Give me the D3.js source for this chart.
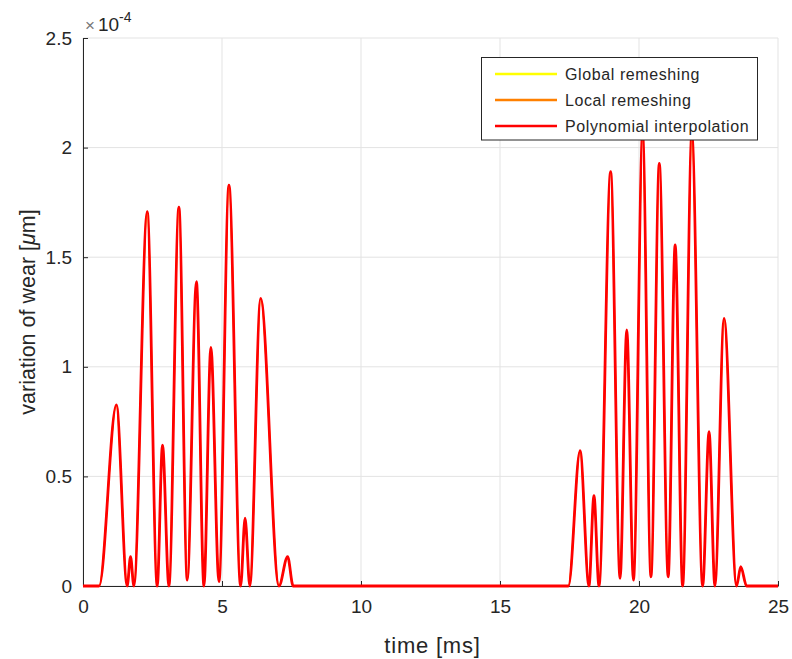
<!DOCTYPE html>
<html>
<head>
<meta charset="utf-8">
<script src="https://cdn.jsdelivr.net/npm/d3@7/dist/d3.min.js"></script>
<style>
  html, body { margin: 0; padding: 0; background: #ffffff; }
  svg { display: block; }
  text { font-family: "Liberation Sans", Arial, Helvetica, sans-serif; fill: #262626; }
</style>
</head>
<body>
<svg id="chart" width="792" height="659"></svg>
<script>
// ---- data (time in ms, wear in units of 1e-4 µm) ----
const timeMs = [0, 0.58, 1.20, 1.59, 1.71, 1.83, 2.31, 2.67, 2.86, 3.09, 3.45, 3.75, 4.08, 4.35, 4.60, 4.89, 5.25, 5.67, 5.83, 6.00, 6.39, 7.05, 7.36, 7.56,
                17.46, 17.88, 18.20, 18.38, 18.56, 18.98, 19.32, 19.56, 19.80, 20.13, 20.43, 20.73, 21.05, 21.30, 21.57, 21.90, 22.29, 22.52, 22.73, 23.06, 23.51, 23.66, 23.87, 25];
const wearPolynomial = [0, 0, 0.826, 0, 0.134, 0, 1.708, 0, 0.643, 0, 1.728, 0.027, 1.388, 0, 1.089, 0.02, 1.829, 0, 0.309, 0, 1.312, 0, 0.134, 0,
                0, 0.617, 0, 0.412, 0, 1.890, 0.035, 1.168, 0.027, 2.06, 0.042, 1.928, 0.042, 1.556, 0, 2.06, 0, 0.704, 0, 1.221, 0, 0.088, 0, 0];
const wearGlobal = wearPolynomial.slice();
const wearLocal = wearPolynomial.slice();

const seriesNames = ["Global remeshing", "Local remeshing", "Polynomial interpolation"];
const seriesColors = ["#ffff00", "#ff8000", "#ff0000"];
const seriesValues = [wearGlobal, wearLocal, wearPolynomial];

const xTicks = [0, 5, 10, 15, 20, 25];
const yTicks = [0, 0.5, 1, 1.5, 2, 2.5];
const xLabel = "time [ms]";
const exponentLabel = "-4";

// ---- layout ----
const svg = d3.select("#chart");
const pLeft = 83, pRight = 778, pTop = 38, pBottom = 586;

const x = d3.scaleLinear().domain([0, 25]).range([pLeft, pRight]);
const y = d3.scaleLinear().domain([0, 2.5]).range([pBottom, pTop]);

// grid
const grid = svg.append("g");
grid.selectAll("line.gx").data(xTicks).join("line")
  .attr("x1", d => x(d)).attr("x2", d => x(d))
  .attr("y1", pTop).attr("y2", pBottom)
  .attr("stroke", "#e3e3e3").attr("stroke-width", 1);
grid.selectAll("line.gy").data(yTicks).join("line")
  .attr("x1", pLeft).attr("x2", pRight)
  .attr("y1", d => y(d)).attr("y2", d => y(d))
  .attr("stroke", "#e3e3e3").attr("stroke-width", 1);

// axes
const xAxis = d3.axisBottom(x).tickValues(xTicks).tickSizeInner(-5).tickSizeOuter(0).tickPadding(14)
  .tickFormat(d3.format("d"));
const gx = svg.append("g").attr("transform", `translate(0,${pBottom})`).call(xAxis);
gx.select(".domain").attr("stroke", "#262626");
gx.selectAll(".tick line").attr("stroke", "#262626");
gx.selectAll(".tick text").attr("font-size", 19).attr("fill", "#262626")
  .attr("font-family", "Liberation Sans, Arial, sans-serif");

const yAxis = d3.axisLeft(y).tickValues(yTicks).tickSizeInner(-5).tickSizeOuter(0).tickPadding(11)
  .tickFormat(d => String(d));
const gy = svg.append("g").attr("transform", `translate(${pLeft},0)`).call(yAxis);
gy.select(".domain").attr("stroke", "#262626");
gy.selectAll(".tick line").attr("stroke", "#262626");
gy.selectAll(".tick text").attr("font-size", 19).attr("fill", "#262626")
  .attr("font-family", "Liberation Sans, Arial, sans-serif");

// lines (drawn over the axes, as in the reference)
const line = d3.line()
  .x((d, i) => x(timeMs[i]))
  .y(d => y(d))
  .curve(d3.curveMonotoneX);

const lineWidths = [1.5, 1.5, 2.8];
seriesValues.forEach((vals, k) => {
  svg.append("path")
    .datum(vals)
    .attr("d", line)
    .attr("fill", "none")
    .attr("stroke", seriesColors[k])
    .attr("stroke-width", lineWidths[k])
    .attr("stroke-linejoin", "round");
});

// exponent label
const exp = svg.append("text").attr("x", 85).attr("y", 31).attr("font-size", 19);
exp.append("tspan").text("×").attr("font-size", 17).attr("fill", "#777");
exp.append("tspan").text("10").attr("dx", 3);
exp.append("tspan").text(exponentLabel).attr("font-size", 14).attr("dy", -9);

// axis labels
svg.append("text")
  .attr("x", (pLeft + pRight) / 2 + 2).attr("y", 653)
  .attr("text-anchor", "middle").attr("font-size", 22).attr("letter-spacing", 0.8)
  .text(xLabel);

const yl = svg.append("text")
  .attr("transform", "translate(35,312) rotate(-90)")
  .attr("text-anchor", "middle").attr("font-size", 21.5);
yl.append("tspan").text("variation of wear [");
yl.append("tspan").text("μ").attr("font-style", "italic");
yl.append("tspan").text("m]");

// legend
const lg = svg.append("g");
lg.append("rect").attr("x", 481.5).attr("y", 57.5).attr("width", 276).attr("height", 82.5)
  .attr("fill", "#ffffff").attr("stroke", "#262626").attr("stroke-width", 1);
seriesNames.forEach((name, k) => {
  const yy = 74 + k * 26;
  lg.append("line").attr("x1", 495).attr("x2", 557).attr("y1", yy).attr("y2", yy)
    .attr("stroke", seriesColors[k]).attr("stroke-width", 2.6);
  lg.append("text").attr("x", 565).attr("y", yy + 5.5).attr("font-size", 16)
    .attr("letter-spacing", 0.6).text(name);
});
</script>
</body>
</html>
